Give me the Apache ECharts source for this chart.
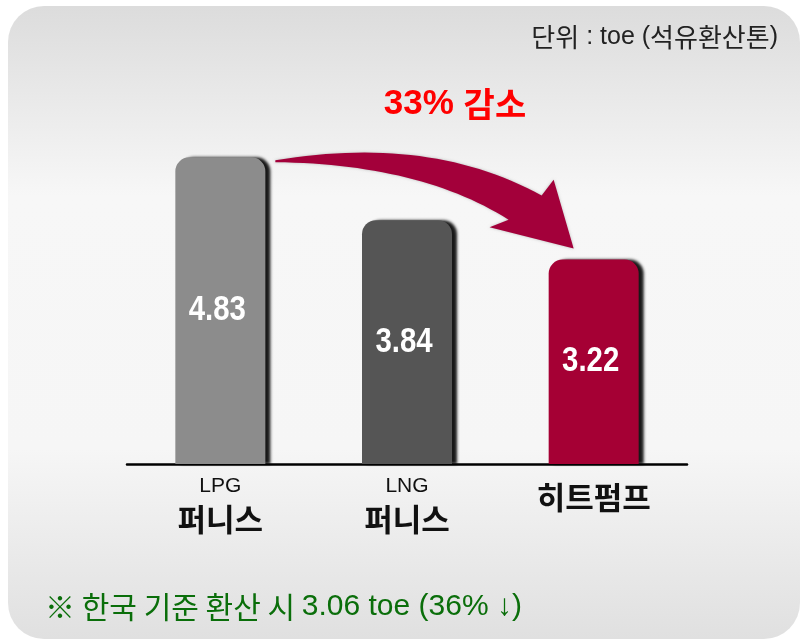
<!DOCTYPE html>
<html>
<head>
<meta charset="utf-8">
<script src="https://cdn.jsdelivr.net/npm/echarts@6.0.0/dist/echarts.min.js"></script>
<style>
  html, body { margin: 0; padding: 0; background: #fff; }
  #chart { width: 801px; height: 640px; }
</style>
</head>
<body>
<div id="chart"></div>
<script>
// data
const categories = ['LPG\n퍼니스', 'LNG\n퍼니스', '히트펌프'];
const values = [4.83, 3.84, 3.22];
const barColors = ['#8c8c8c', '#555555', '#a50034'];

const latin = "'Liberation Sans', Arial, sans-serif";
const kr = "'Noto Sans CJK KR', sans-serif";

const chart = echarts.init(document.getElementById('chart'));

const option = {
    backgroundColor: '#ffffff',
    animation: false,
    grid: { left: 127, right: 114, top: 83, bottom: 176 },
    xAxis: {
        type: 'category',
        data: categories,
        axisLine: { lineStyle: { color: '#000', width: 2.5 } },
        axisTick: { show: false },
        axisLabel: {
            margin: 8,
            formatter: (v) => {
                const parts = v.split('\n');
                if (parts.length === 2) return '{small|' + parts[0] + '}\n{big|' + parts[1] + '}';
                return '{solo|' + v + '}';
            },
            rich: {
                small: { fontFamily: latin, fontSize: 21, color: '#111', lineHeight: 28 },
                big: { fontFamily: kr, fontSize: 31, fontWeight: 'bold', color: '#111', lineHeight: 38 },
                solo: { fontFamily: kr, fontSize: 31, fontWeight: 'bold', color: '#111', lineHeight: 50 }
            }
        }
    },
    yAxis: {
        type: 'value', min: 0, max: 6, show: false,
        splitLine: { show: false }
    },
    series: [{
        type: 'bar',
        barWidth: 90,
        data: values.map((v, i) => ({
            value: v,
            itemStyle: { color: barColors[i] }
        })),
        itemStyle: {
            borderRadius: [14, 14, 0, 0],
            shadowColor: 'rgba(0,0,0,0.9)',
            shadowOffsetX: 5,
            shadowOffsetY: 0,
            shadowBlur: 3
        }
    }],
    graphic: [
        {
            type: 'rect', z: -10, silent: true,
            shape: { x: 8, y: 6, width: 792, height: 633, r: 36 },
            style: {
                fill: new echarts.graphic.LinearGradient(0, 0, 0, 1, [
                    { offset: 0, color: '#dcdcdc' },
                    { offset: 0.3, color: '#f7f7f7' },
                    { offset: 0.7, color: '#f6f6f6' },
                    { offset: 1, color: '#e0e0e0' }
                ])
            }
        },
        {
            type: 'text', x: 778, y: 37,
            style: {
                text: '{k|단위}{l| : toe (}{k|석유환산톤}{l|)}',
                align: 'right', verticalAlign: 'middle',
                rich: {
                    k: { fontFamily: kr, fontSize: 26, fill: '#222' },
                    l: { fontFamily: latin, fontSize: 25, fill: '#222' }
                }
            }
        },
        {
            type: 'text', x: 455, y: 104,
            style: {
                text: '{l|33% }{k|감소}',
                align: 'center', verticalAlign: 'middle',
                rich: {
                    l: { fontFamily: latin, fontSize: 35, fontWeight: 'bold', fill: '#ff0000' },
                    k: { fontFamily: kr, fontSize: 34, fontWeight: 'bold', fill: '#ff0000' }
                }
            }
        },
        {
            type: 'text', x: 45, y: 607,
            style: {
                text: '{k|※ 한국 기준 환산 시 }{l|3.06 toe (36% ↓)}',
                align: 'left', verticalAlign: 'middle',
                rich: {
                    k: { fontFamily: kr, fontSize: 30, fill: '#0a6e0a' },
                    l: { fontFamily: latin, fontSize: 30, fill: '#0a6e0a' }
                }
            }
        }
    ]
};
chart.setOption(option);

// value labels centred in each bar, narrowed like the original condensed type
const labelGraphics = values.map((v, i) => {
    const p = chart.convertToPixel({ seriesIndex: 0 }, [i, v / 2]);
    return {
        type: 'text', id: 'val' + i, z: 10, silent: true,
        x: p[0] - 3, y: p[1], scaleX: 0.84,
        style: {
            text: v.toFixed(2), align: 'center', verticalAlign: 'middle',
            fontFamily: latin, fontWeight: 'bold', fontSize: 35, fill: '#fff'
        }
    };
});

// curved arrow from the LPG bar top to the heat pump bar, placed from the bar positions
const a = chart.convertToPixel({ seriesIndex: 0 }, [0, values[0]]);
const b = chart.convertToPixel({ seriesIndex: 0 }, [2, values[2]]);
const sx = a[0] + 55, sy = a[1] + 3;   // start near LPG top right
const tx = b[0] - 20, ty = b[1] - 11;  // arrow tip above heat pump bar
const dx = (tx - sx) / 298, dy = (ty - sy) / 95;
const P = (x, y) => [sx + x * dx, sy + y * dy];
function quad(p0, c, p1, n) {
    const out = [];
    for (let i = 0; i <= n; i++) {
        const t = i / n, u = 1 - t;
        out.push([u * u * p0[0] + 2 * u * t * c[0] + t * t * p1[0],
                  u * u * p0[1] + 2 * u * t * c[1] + t * t * p1[1]]);
    }
    return out;
}
const arrowPts = [].concat(
    quad(P(0, 0), P(155, -28), P(266, 38), 30),
    [P(278, 21), P(298, 95), P(214, 72)],
    quad(P(233, 64), P(145, 4), P(0, 2), 30)
);

chart.setOption({
    graphic: labelGraphics.concat([{
        type: 'polygon', id: 'arrow', silent: true, z: 5,
        shape: { points: arrowPts },
        style: { fill: '#a3003a', shadowColor: 'rgba(0,0,0,0.25)', shadowBlur: 3 }
    }])
});
</script>
</body>
</html>
